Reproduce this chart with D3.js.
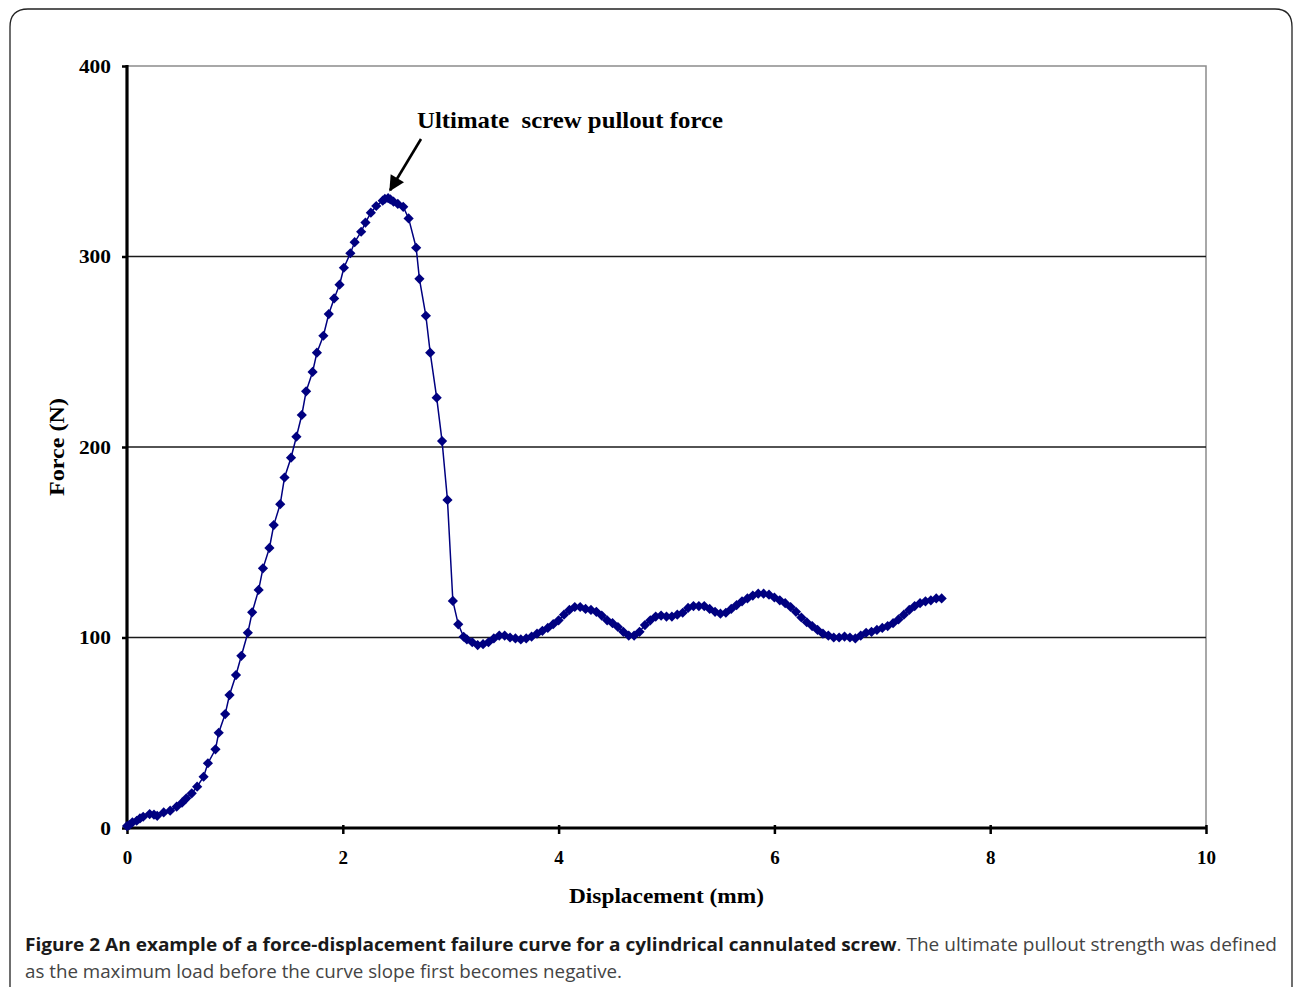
<!DOCTYPE html>
<html>
<head>
<meta charset="utf-8">
<script src="https://cdn.jsdelivr.net/npm/d3@7"></script>
<style>
  html, body { margin: 0; padding: 0; background: #fff; }
  svg { display: block; }
</style>
</head>
<body>
<svg id="chart" width="1293" height="987"></svg>
<script>
// ---- data ----
const displacement = [
  0.00, 0.02, 0.05, 0.09, 0.12, 0.15, 0.21, 0.25, 0.28, 0.34, 0.40, 0.46, 0.51, 0.55, 0.60, 0.65,
  0.71, 0.75, 0.82, 0.85, 0.91, 0.95, 1.01, 1.06, 1.12, 1.16, 1.22, 1.26, 1.32, 1.36, 1.42, 1.46,
  1.52, 1.57, 1.62, 1.66, 1.72, 1.76, 1.82, 1.87, 1.92, 1.97, 2.01, 2.07, 2.11, 2.17, 2.21, 2.26,
  2.31, 2.37, 2.39, 2.42, 2.44, 2.47, 2.51, 2.56, 2.61, 2.68, 2.71, 2.77, 2.81, 2.87, 2.92, 2.97,
  3.02, 3.07, 3.12,
  3.15, 3.20, 3.25, 3.30, 3.35, 3.40, 3.45, 3.50, 3.55, 3.60, 3.65, 3.70, 3.75, 3.80, 3.85, 3.90,
  3.95, 4.00, 4.05, 4.10, 4.15, 4.20, 4.25, 4.30, 4.35, 4.40, 4.45, 4.50, 4.55, 4.60, 4.65, 4.70,
  4.75, 4.80, 4.85, 4.90, 4.95, 5.00, 5.05, 5.10, 5.15, 5.20, 5.25, 5.30, 5.35, 5.40, 5.45, 5.50,
  5.55, 5.60, 5.65, 5.70, 5.75, 5.80, 5.85, 5.90, 5.95, 6.00, 6.05, 6.10, 6.15, 6.20, 6.25, 6.30,
  6.35, 6.40, 6.45, 6.50, 6.55, 6.60, 6.65, 6.70, 6.75, 6.80, 6.85, 6.90, 6.95, 7.00, 7.05, 7.10,
  7.15, 7.20, 7.25, 7.30, 7.35, 7.40, 7.45, 7.50, 7.55
];
const force = [
  1, 1.5, 3, 3.8, 5, 5.9, 7.3, 7, 6.4, 8.2, 9.1, 11.2, 13.3, 15.6, 18.2, 21.7,
  26.9, 34, 41.3, 50, 59.8, 69.8, 80.3, 90.4, 102.5, 113.2, 125, 136.3, 147, 159, 170, 184,
  194.4, 205.4, 216.8, 229.2, 239.4, 249.5, 258.4, 269.8, 278, 285.2, 294.1, 301.7, 307.5, 313, 317.8, 323,
  326.5, 329.3, 330.2, 330.6, 330, 328.8, 327.6, 326.1, 320, 304.6, 288.3, 268.9, 249.5, 225.9, 203.1, 172.2,
  119.2, 106.9, 100.4,
  99, 97.5, 96, 96.5, 97.5, 99.5, 101, 101, 100, 99.5, 99, 99.5, 100.5, 102, 103.5, 105,
  107, 109, 112, 114.5, 116, 116, 115, 114.5, 113.5, 111.5, 109, 107.5, 105.5, 103, 101, 101,
  103, 106.5, 109, 111, 111.5, 111, 111, 112, 113, 115.5, 116.5, 116.5, 116.5, 115, 113.5, 112.5,
  113, 115, 117, 119, 120.5, 122, 123, 123, 122.5, 121, 119.5, 118, 116, 113.5, 110.5, 108,
  106, 104, 102, 101, 100, 100, 100.5, 100, 99.5, 101, 102.5, 103, 104, 105, 106, 107.5,
  109.5, 112, 114.5, 116.5, 118, 119, 119.5, 120.5, 120.5
];
const xTicks = [0, 2, 4, 6, 8, 10];
const yTicks = [0, 100, 200, 300, 400];
const gridValues = [100, 200, 300];
const xTitle = "Displacement (mm)";
const yTitle = "Force (N)";
const annotationText = "Ultimate\u00a0 screw pullout force";
const peakX = 2.42, peakY = 330.6;
const captionBold = "Figure 2 An example of a force-displacement failure curve for a cylindrical cannulated screw";
const captionRest1 = ". The ultimate pullout strength was defined";
const captionLine2 = "as the maximum load before the curve slope first becomes negative.";

// ---- layout ----
const svg = d3.select("#chart");
const L = 127, R = 1206, T = 66, B = 828;
const x = d3.scaleLinear().domain([0, 10]).range([L, R]);
const y = d3.scaleLinear().domain([0, 400]).range([B, T]);
const serif = "'Liberation Serif', 'Times New Roman', serif";

// outer frame with rounded corners
svg.append("path")
  .attr("d", `M10,987 L10,27 Q10,9 28,9 L1275,9 Q1292,9 1292,27 L1292,987`)
  .attr("fill", "none").attr("stroke", "#222").attr("stroke-width", 1.3);

// plot border (top/right, gray)
svg.append("path")
  .attr("d", `M${L},${T} L${R},${T} L${R},${B}`)
  .attr("fill", "none").attr("stroke", "#8c8c8c").attr("stroke-width", 1.5);

// gridlines
svg.append("g").selectAll("line").data(gridValues).join("line")
  .attr("x1", L).attr("x2", R)
  .attr("y1", d => y(d)).attr("y2", d => y(d))
  .attr("stroke", "#1a1a1a").attr("stroke-width", 1.4);

// axes
const yAxis = d3.axisLeft(y).tickValues(yTicks).tickSize(5).tickPadding(11).tickFormat(d3.format("d"));
const xAxis = d3.axisBottom(x).tickValues(xTicks).tickSize(6).tickPadding(17).tickFormat(d3.format("d"));

const gy = svg.append("g").attr("transform", `translate(${L},0)`).call(yAxis);
const gx = svg.append("g").attr("transform", `translate(0,${B})`).call(xAxis);
[gx, gy].forEach(g => {
  g.select(".domain").remove();
  g.selectAll(".tick line").attr("stroke", "#000").attr("stroke-width", 2.5);
  g.selectAll(".tick text")
    .attr("fill", "#000")
    .style("font-family", serif).style("font-weight", "bold").style("font-size", "19px");
});
gy.selectAll(".tick text").each(function () {
  const n = this.textContent.length;
  d3.select(this).attr("textLength", n * 10.7).attr("lengthAdjust", "spacingAndGlyphs");
});
gx.selectAll(".tick text").each(function () {
  const n = this.textContent.length;
  d3.select(this).attr("textLength", n * 9.5).attr("lengthAdjust", "spacingAndGlyphs");
});
gx.selectAll(".tick line").attr("y1", -3);
// thick axis lines
svg.append("line").attr("x1", L).attr("x2", L).attr("y1", T - 1).attr("y2", B + 1)
  .attr("stroke", "#000").attr("stroke-width", 3.2);
svg.append("line").attr("x1", L - 1).attr("x2", R + 1).attr("y1", B).attr("y2", B)
  .attr("stroke", "#000").attr("stroke-width", 3.2);

// axis titles
svg.append("text").attr("x", 569).attr("y", 903)
  .attr("textLength", 195).attr("lengthAdjust", "spacingAndGlyphs")
  .style("font-family", serif).style("font-weight", "bold").style("font-size", "21px")
  .text(xTitle);
svg.append("text")
  .attr("transform", `translate(64,496) rotate(-90)`)
  .attr("textLength", 98).attr("lengthAdjust", "spacingAndGlyphs")
  .style("font-family", serif).style("font-weight", "bold").style("font-size", "20px")
  .text(yTitle);

// data line + markers
const pts = displacement.map((d, i) => [d, force[i]]);
svg.append("path")
  .datum(pts)
  .attr("d", d3.line().x(d => x(d[0])).y(d => y(d[1])))
  .attr("fill", "none").attr("stroke", "#000080").attr("stroke-width", 1.5);
const s = 5.1;
svg.append("g").selectAll("path").data(pts).join("path")
  .attr("transform", d => `translate(${x(d[0])},${y(d[1])})`)
  .attr("d", `M0,${-s}L${s},0L0,${s}L${-s},0Z`)
  .attr("fill", "#000080");

// annotation
svg.append("text").attr("x", 417).attr("y", 128)
  .attr("textLength", 306).attr("lengthAdjust", "spacingAndGlyphs")
  .style("font-family", serif).style("font-weight", "bold").style("font-size", "24px")
  .text(annotationText);
svg.append("defs").append("marker")
  .attr("id", "arr").attr("viewBox", "0 0 10 10").attr("refX", 9).attr("refY", 5)
  .attr("markerWidth", 7).attr("markerHeight", 6).attr("markerUnits", "strokeWidth")
  .attr("orient", "auto")
  .append("path").attr("d", "M0,0L10,5L0,10Z").attr("fill", "#000");
svg.append("line")
  .attr("x1", 421).attr("y1", 139)
  .attr("x2", x(peakX) + 2).attr("y2", y(peakY) - 8)
  .attr("stroke", "#000").attr("stroke-width", 2.6)
  .attr("marker-end", "url(#arr)");

// caption
const cap = svg.append("text").attr("x", 25).attr("y", 951)
  .attr("textLength", 1252).attr("lengthAdjust", "spacingAndGlyphs")
  .style("font-family", "'Open Sans', sans-serif").style("font-size", "18px");
cap.append("tspan").attr("font-weight", "bold").attr("fill", "#1a1a1a").text(captionBold);
cap.append("tspan").attr("fill", "#444").text(captionRest1);
svg.append("text").attr("x", 25).attr("y", 978)
  .attr("textLength", 597).attr("lengthAdjust", "spacingAndGlyphs")
  .style("font-family", "'Open Sans', sans-serif").style("font-size", "18px")
  .attr("fill", "#444").text(captionLine2);
</script>
</body>
</html>
